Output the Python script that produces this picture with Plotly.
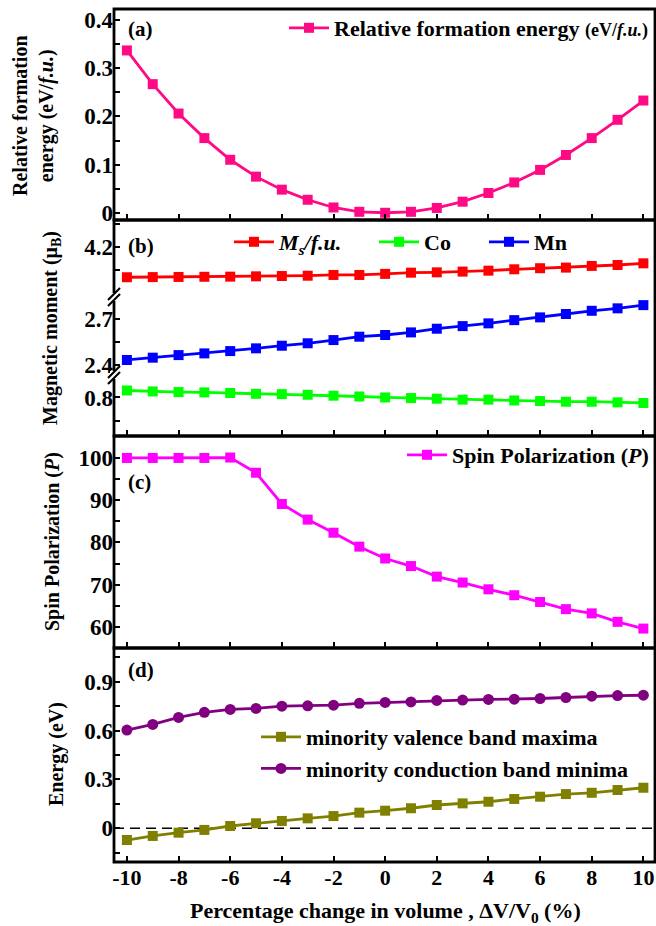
import plotly.graph_objects as go

# ---------------- data ----------------
strain = [-10, -9, -8, -7, -6, -5, -4, -3, -2, -1, 0, 1, 2, 3, 4, 5, 6, 7, 8, 9, 10]

formation_energy = [0.337, 0.267, 0.206, 0.155, 0.110, 0.075, 0.048, 0.027, 0.011, 0.002, 0.0,
                    0.002, 0.010, 0.023, 0.041, 0.063, 0.089, 0.120, 0.155, 0.193, 0.233]

ms_fu = [4.000, 4.001, 4.002, 4.003, 4.004, 4.006, 4.008, 4.010, 4.015, 4.015, 4.022,
         4.030, 4.032, 4.037, 4.043, 4.052, 4.059, 4.063, 4.074, 4.080, 4.091]
mn_moment = [2.433, 2.448, 2.465, 2.476, 2.491, 2.509, 2.526, 2.542, 2.563, 2.585, 2.596,
             2.613, 2.637, 2.654, 2.672, 2.693, 2.711, 2.733, 2.754, 2.770, 2.791]
co_moment = [0.844, 0.838, 0.834, 0.832, 0.828, 0.823, 0.821, 0.817, 0.811, 0.806, 0.800,
             0.796, 0.792, 0.786, 0.786, 0.781, 0.777, 0.773, 0.773, 0.769, 0.765]

spin_pol = [100.0, 100.0, 100.0, 100.0, 100.1, 96.5, 89.1, 85.4, 82.3, 79.0, 76.2,
            74.4, 71.9, 70.5, 68.9, 67.5, 65.9, 64.2, 63.2, 61.2, 59.6]

vbm = [-0.072, -0.047, -0.027, -0.010, 0.014, 0.031, 0.045, 0.061, 0.075, 0.096, 0.108,
       0.123, 0.143, 0.153, 0.163, 0.180, 0.194, 0.210, 0.218, 0.235, 0.249]
cbm = [0.603, 0.638, 0.681, 0.712, 0.730, 0.736, 0.750, 0.752, 0.756, 0.767, 0.773,
       0.776, 0.785, 0.787, 0.791, 0.793, 0.797, 0.803, 0.811, 0.815, 0.817]

x_ticks = [-10, -8, -6, -4, -2, 0, 2, 4, 6, 8, 10]
x_ticktext = ["-10", "-8", "-6", "-4", "-2", "0", "2", "4", "6", "8", "10"]
a_ticks = [0, 0.1, 0.2, 0.3, 0.4]
a_ticktext = ["0", "0.1", "0.2", "0.3", "0.4"]
a_minor = [0.05, 0.15, 0.25, 0.35]
b_top_ticks = [4.2]
b_top_minor = [4.05, 4.35]
b_mid_ticks = [2.4, 2.7]
b_mid_minor = [2.55]
b_bot_ticks = [0.8]
b_bot_minor = [0.65]
c_ticks = [60, 70, 80, 90, 100]
c_minor = [65, 75, 85, 95, 105]
d_ticks = [0, 0.3, 0.6, 0.9]
d_ticktext = ["0", "0.3", "0.6", "0.9"]
d_minor = [-0.15, 0.15, 0.45, 0.75, 1.05]

# ---------------- geometry (pixels) ----------------
W, H = 656, 926
L, R, T, B = 114, 1, 9, 64
PW = W - L - R
PH = H - T - B


def py(p):
    return (H - B - p) / PH


def px(p):
    return (p - L) / PW


y_a = [py(220), 1.0]
y_b_top = [py(297), py(220)]
y_b_mid = [py(375), py(297)]
y_b_bot = [py(436), py(375)]
y_c = [py(648), py(436)]
y_d = [0.0, py(648)]

FONT = "Liberation Serif"
XTICKF = dict(family=FONT, size=22, color="black", weight="bold")
YTICKF = dict(family=FONT, size=23, color="black", weight="bold")
LEGF = dict(family=FONT, size=22, color="black", weight="bold")
xrange_ = [-10.5, 10.45]

fig = go.Figure()

ms = 10
lw = 2.8

fig.add_trace(go.Scatter(x=strain, y=formation_energy, xaxis="x4", yaxis="y6",
                         mode="lines+markers",
                         name="Relative formation energy <span style='font-size:18px'>(eV/<i>f.u.</i>)</span>",
                         line=dict(color="#ff0a84", width=lw), marker=dict(symbol="square", size=ms),
                         legend="legend"))

fig.add_trace(go.Scatter(x=strain, y=ms_fu, xaxis="x3", yaxis="y5",
                         mode="lines+markers", name="<i>M<sub>s</sub>/f.u.</i>",
                         line=dict(color="#ff0000", width=lw), marker=dict(symbol="square", size=ms),
                         legend="legend2"))
fig.add_trace(go.Scatter(x=strain, y=co_moment, xaxis="x3", yaxis="y3",
                         mode="lines+markers", name="Co",
                         line=dict(color="#00ff00", width=lw), marker=dict(symbol="square", size=ms),
                         legend="legend5"))
fig.add_trace(go.Scatter(x=strain, y=mn_moment, xaxis="x3", yaxis="y4",
                         mode="lines+markers", name="Mn",
                         line=dict(color="#0000ff", width=lw), marker=dict(symbol="square", size=ms),
                         legend="legend6"))

fig.add_trace(go.Scatter(x=strain, y=spin_pol, xaxis="x2", yaxis="y2",
                         mode="lines+markers", name="Spin Polarization (<i>P</i>)",
                         line=dict(color="#ff00ff", width=lw), marker=dict(symbol="square", size=ms),
                         legend="legend3"))

fig.add_trace(go.Scatter(x=strain, y=vbm, xaxis="x", yaxis="y",
                         mode="lines+markers", name="minority valence band maxima",
                         line=dict(color="#808000", width=lw), marker=dict(symbol="square", size=ms),
                         legend="legend4"))
fig.add_trace(go.Scatter(x=strain, y=cbm, xaxis="x", yaxis="y",
                         mode="lines+markers", name="minority conduction band minima",
                         line=dict(color="#800080", width=lw), marker=dict(symbol="circle", size=11),
                         legend="legend4"))


def xax(anchor, labels):
    return dict(domain=[0, 1], anchor=anchor, range=xrange_, tickmode="array", tickvals=x_ticks,
                ticktext=x_ticktext,
                ticks="inside", ticklen=6, tickwidth=2, tickcolor="black",
                showticklabels=labels, tickfont=XTICKF, showgrid=False, zeroline=False, showline=False)


def yax(domain, rng, tv, minor, anchor, tt=None):
    d = dict(domain=domain, anchor=anchor, range=rng, tickmode="array", tickvals=tv,
             ticks="inside", ticklen=6, tickwidth=2, tickcolor="black", tickfont=YTICKF,
             minor=dict(tickmode="array", tickvals=minor, ticks="inside", ticklen=6, tickwidth=2, tickcolor="black"),
             showgrid=False, zeroline=False, showline=False)
    if tt is not None:
        d["ticktext"] = tt
    return d


def leg(xp, ypix, anchor="left"):
    return dict(x=px(xp), y=py(ypix), xanchor=anchor, yanchor="middle", bgcolor="rgba(0,0,0,0)",
                font=LEGF, itemwidth=40, tracegroupgap=0)


fig.update_layout(
    width=W, height=H,
    margin=dict(l=L, r=R, t=T, b=B),
    paper_bgcolor="white", plot_bgcolor="white",
    font=dict(family=FONT, size=20, color="black", weight="bold"),
    xaxis=xax("y", True),
    xaxis2=xax("y2", False),
    xaxis3=xax("y3", False),
    xaxis4=xax("y6", False),
    yaxis=yax(y_d, [-0.207, 1.107], d_ticks, d_minor, "x", d_ticktext),
    yaxis2=yax(y_c, [55.0, 105.2], c_ticks, c_minor, "x2"),
    yaxis3=yax(y_b_bot, [0.556, 0.942], b_bot_ticks, b_bot_minor, "x3"),
    yaxis4=yax(y_b_mid, [2.335, 2.844], b_mid_ticks, b_mid_minor, "x3"),
    yaxis5=yax(y_b_top, [3.871, 4.374], b_top_ticks, b_top_minor, "x3"),
    yaxis6=yax(y_a, [-0.015, 0.423], a_ticks, a_minor, "x4", a_ticktext),
    legend=leg(654, 28, "right"),
    legend2=leg(229, 242),
    legend5=leg(374, 242),
    legend6=leg(484, 242),
    legend3=leg(654, 455, "right"),
    legend4=leg(256, 753),
    showlegend=True,
)

# zero reference line in panel (d)
fig.add_shape(type="line", xref="x domain", yref="y", x0=0, x1=1, y0=0, y1=0,
              line=dict(color="black", width=1.5, dash="10px,6px"), layer="below")

# panel frames
for dom in [y_a, [y_b_bot[0], y_b_top[1]], y_c, y_d]:
    fig.add_shape(type="rect", xref="paper", yref="paper", x0=0, x1=1, y0=dom[0], y1=dom[1],
                  line=dict(color="black", width=2.8), fillcolor="rgba(0,0,0,0)", layer="above")

# axis-break marks in panel (b)
for pbrk in [297, 375]:
    fig.add_shape(type="rect", xref="paper", yref="paper", x0=px(110), x1=px(118),
                  y0=py(pbrk + 4), y1=py(pbrk - 4), line=dict(width=0), fillcolor="white", layer="above")
    for off in [-3, 3]:
        fig.add_shape(type="line", xref="paper", yref="paper",
                      x0=px(108), y0=py(pbrk + off + 6), x1=px(120), y1=py(pbrk + off - 6),
                      line=dict(color="black", width=2.2), layer="above")

# panel labels
for lab, ypix in [("(a)", 29), ("(b)", 246), ("(c)", 482), ("(d)", 670)]:
    fig.add_annotation(text=lab, xref="paper", yref="paper", x=px(126), y=py(ypix),
                       xanchor="left", yanchor="middle", showarrow=False,
                       font=dict(family=FONT, size=21, weight="bold"))

# axis titles
ytitles = [
    ("Relative formation<br>energy (eV/<i>f.u.</i>)", 33, 116),
    ("Magnetic moment (μ<sub>B</sub>)", 51, 328),
    ("Spin Polarization (<i>P</i>)", 52, 542),
    ("Energy (eV)", 56, 754),
]
for txt, xp, ypp in ytitles:
    fig.add_annotation(text=txt, xref="paper", yref="paper", x=px(xp), y=py(ypp),
                       xanchor="center", yanchor="middle", textangle=-90, showarrow=False,
                       font=dict(family=FONT, size=20, weight="bold"))

fig.add_annotation(text="Percentage change in volume , ΔV/V<sub>0</sub> (%)", xref="paper", yref="paper",
                   x=px(385), y=py(912), xanchor="center", yanchor="middle", showarrow=False,
                   font=dict(family=FONT, size=22, weight="bold"))

fig.write_html("out.html")
